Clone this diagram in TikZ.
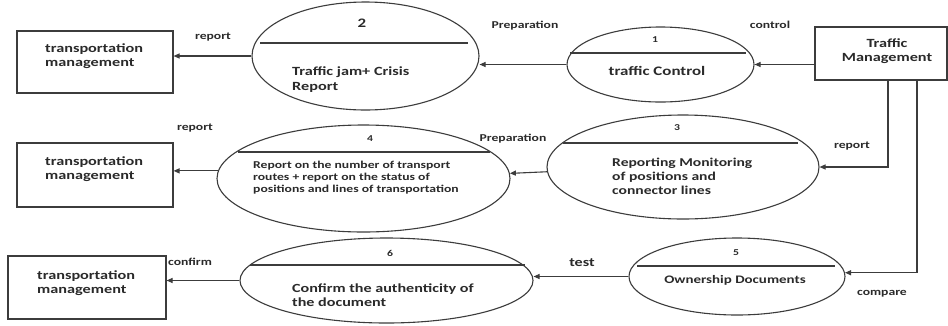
\documentclass[tikz,border=0pt]{standalone}
\usepackage{fontspec}
\setmainfont{Carlito}[FakeStretch=1.3]
\usetikzlibrary{arrows.meta,shapes.geometric,calc}
\definecolor{ink}{HTML}{2A2A2A}
\definecolor{edge}{HTML}{3C3C3C}
\tikzset{
  ent/.style={draw=edge,line width=1.1pt,inner sep=0pt},
  proc/.style={ellipse,draw=edge,line width=1.1pt,inner sep=0pt},
  divline/.style={draw=edge,line width=1.1pt},
  arr/.style={draw=edge,line width=1.1pt,-{Triangle[length=6pt,width=5pt]}},
  lbl/.style={text=ink,font=\bfseries\fontsize{10.5}{12}\selectfont,inner sep=0pt},
  txt/.style={text=ink,font=\bfseries\fontsize{12.5}{14}\selectfont,inner sep=0pt,align=left},
  num/.style={text=ink,font=\bfseries\fontsize{9}{11}\selectfont,inner sep=0pt}
}
\begin{document}
\begin{tikzpicture}[x=1pt,y=-1pt]
\useasboundingbox[fill=white] (0,0) rectangle (948,325);
% external entities
\node[ent,minimum width=156pt,minimum height=62pt] (tm1) at (95,62) {};
\node[ent,minimum width=156pt,minimum height=64pt] (tm2) at (95,175) {};
\node[ent,minimum width=158pt,minimum height=63pt] (tm3) at (87,287.5) {};
\node[ent,minimum width=132pt,minimum height=53pt] (tfm) at (881,53.5) {};
\node[txt,anchor=west] (tm1t) at (45,56.5) {transportation\\management};
\node[txt,anchor=west] (tm2t) at (45,169.5) {transportation\\management};
\node[txt,anchor=west] (tm3t) at (37,283) {transportation\\management};
\node[txt,align=center] (tfmt) at (887,51) {Traffic\\Management};
% processes
\node[proc,minimum width=187pt,minimum height=75pt] (e1) at (660.5,64.5) {};
\node[proc,minimum width=227pt,minimum height=108pt] (e2) at (365.5,56) {};
\node[proc,minimum width=272pt,minimum height=104pt] (e3) at (683,167) {};
\node[proc,minimum width=293pt,minimum height=107pt] (e4) at (363.5,178.5) {};
\node[proc,minimum width=216pt,minimum height=77pt] (e5) at (737,276.5) {};
\node[proc,minimum width=293pt,minimum height=85pt] (e6) at (386.5,280.5) {};
% dividers
\draw[divline] ($(e1.center)+(-90.5,-11.5)$) -- ($(e1.center)+(85.5,-11.5)$);
\draw[divline] ($(e2.center)+(-105.5,-13)$) -- ($(e2.center)+(102.5,-13)$);
\draw[divline] ($(e3.center)+(-120,-24)$) -- ($(e3.center)+(115,-24)$);
\draw[divline] ($(e4.center)+(-125.5,-26.5)$) -- ($(e4.center)+(126.5,-26.5)$);
\draw[divline] ($(e5.center)+(-100,-10.5)$) -- ($(e5.center)+(98,-10.5)$);
\draw[divline] ($(e6.center)+(-136.5,-15.5)$) -- ($(e6.center)+(138.5,-15.5)$);
% numbers
\node[num,font=\bfseries\fontsize{13}{15}\selectfont] (n2) at (362,23) {2};
\node[num] (n1) at (655,40) {1};
\node[num] (n3) at (677,128) {3};
\node[num] (n4) at (370,139) {4};
\node[num] (n5) at (736,253) {5};
\node[num] (n6) at (390,253) {6};
% process texts
\node[txt,anchor=west,font=\bfseries\fontsize{12.5}{15}\selectfont] (e2t) at (292,79.5) {Traffic jam+ Crisis\\Report};
\node[txt,align=center,font=\bfseries\fontsize{13}{15}\selectfont] (e1t) at (657,71) {traffic Control};
\node[txt,anchor=west,font=\bfseries\fontsize{12}{14}\selectfont] (e3t) at (612,176) {Reporting Monitoring\\of positions and\\connector lines};
\node[txt,anchor=west,font=\bfseries\fontsize{10.5}{12}\selectfont] (e4t) at (253,178) {Report on the number of transport\\routes + report on the status of\\positions and lines of transportation};
\node[txt,align=center,font=\bfseries\fontsize{11.5}{14}\selectfont] (e5t) at (735,280) {Ownership Documents};
\node[txt,anchor=west,font=\bfseries\fontsize{12.4}{14}\selectfont] (e6t) at (292,295) {Confirm the authenticity of\\the document};
% connectors
\draw[arr] (tfm.west |- e1.east) -- (e1.east);
\draw[arr] (e1.west) -- (e1.west -| e2.east);
\draw[arr] (e2.west) -- (e2.west -| tm1.east);
\draw[arr] ([xshift=7pt]tfm.south) |- (e3.east);
\draw[arr] (e3.182.5) -- (e4.2.2);
\draw[arr] (e4.177.8) -- (e4.177.8 -| tm2.east);
\draw[arr] ([xshift=36pt]tfm.south) |- (e5.2);
\draw[arr] (e5.west) -- (e5.west -| e6.east);
\draw[arr] (e6.west) -- (e6.west -| tm3.east);
% labels
\node[lbl] (l1) at (213,37) {report};
\node[lbl] (l2) at (525,26) {Preparation};
\node[lbl] (l3) at (770,25) {control};
\node[lbl] (l4) at (852,146) {report};
\node[lbl] (l5) at (513,139) {Preparation};
\node[lbl] (l6) at (195,128) {report};
\node[lbl] (l7) at (190,262) {confirm};
\node[lbl,font=\bfseries\fontsize{12.4}{14}\selectfont] (l8) at (582,263) {test};
\node[lbl] (l9) at (882,294) {compare};
\end{tikzpicture}
\end{document}
